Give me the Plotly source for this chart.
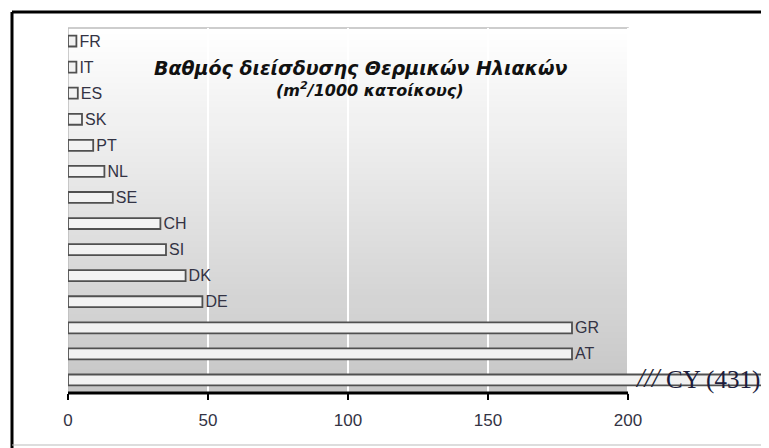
import plotly.graph_objects as go

countries = ['FR', 'IT', 'ES', 'SK', 'PT', 'NL', 'SE', 'CH', 'SI', 'DK', 'DE', 'GR', 'AT', 'CY']
values = [3, 3, 3.5, 5, 9, 13, 16, 33, 35, 42, 48, 180, 180, 431]
x_ticks = [0, 50, 100, 150, 200]

title = '<b><i>Βαθμός διείσδυσης Θερμικών Ηλιακών</i></b>'
subtitle = '<b><i>(m<sup>2</sup>/1000 κατοίκους)</i></b>'

# page has an 8px body margin, so the figure is a bit smaller than the window
OFF = 8
W, H = 769 - OFF, 448 - OFF
PLOT_L, PLOT_R, PLOT_T, PLOT_B = 68, 769, 28, 393   # page pixels
ML, MR, MT, MB = PLOT_L - OFF, 769 - PLOT_R, PLOT_T - OFF, H - (PLOT_B - OFF)
px_per_unit = (628 - PLOT_L) / 200
x_max = (PLOT_R - PLOT_L) / px_per_unit


def px(p):  # page x -> paper x
    return (p - PLOT_L) / (PLOT_R - PLOT_L)


def py(p):  # page y -> paper y
    return (PLOT_B - p) / (PLOT_B - PLOT_T)


fig = go.Figure()

# bar labels, CY is labelled separately next to the axis break
labels = [c if v <= 200 else '' for c, v in zip(countries, values)]

fig.add_trace(go.Bar(
    x=values,
    y=countries,
    orientation='h',
    width=0.42,
    marker=dict(color='#f2f2f2', line=dict(color='#505050', width=1.8)),
    text=labels,
    textposition='outside',
    constraintext='none',
    cliponaxis=False,
    textfont=dict(family='Arial, Liberation Sans', size=16, color='#333344'),
    hoverinfo='skip',
    showlegend=False,
))

shapes = []
# vertical grey gradient behind the 0-200 range
n_strips = 60
for i in range(n_strips):
    t = i / (n_strips - 1)
    g = int(round(198 + (255 - 198) * t))
    shapes.append(dict(
        type='rect', xref='x', yref='paper', layer='below',
        x0=0, x1=200, y0=i / n_strips, y1=(i + 1) / n_strips + 0.002,
        fillcolor=f'rgb({g},{g},{g})', line=dict(width=0),
    ))
# plot area border
shapes.append(dict(type='rect', xref='x', yref='paper', layer='between',
                   x0=0, x1=200, y0=0, y1=1,
                   line=dict(color='#bdbdbd', width=1.5)))
# x axis line only under 0-200
shapes.append(dict(type='line', xref='x', yref='paper', layer='above',
                   x0=0, x1=200, y0=0, y1=0,
                   line=dict(color='black', width=3)))
# outer frame
shapes.append(dict(type='line', xref='paper', yref='paper', x0=px(12), x1=px(780), y0=py(12), y1=py(12),
                   line=dict(color='black', width=3)))
shapes.append(dict(type='line', xref='paper', yref='paper', x0=px(12), x1=px(12), y0=py(12), y1=py(460),
                   line=dict(color='black', width=3)))
shapes.append(dict(type='line', xref='paper', yref='paper', x0=px(12), x1=px(780), y0=py(445), y1=py(445),
                   line=dict(color='#bbbbbb', width=1)))

annotations = [
    dict(text=title, xref='paper', yref='paper', x=px(360), y=py(68), showarrow=False,
         xanchor='center', yanchor='middle',
         font=dict(family='DejaVu Sans', size=19, color='#111111')),
    dict(text=subtitle, xref='paper', yref='paper', x=px(369), y=py(89), showarrow=False,
         xanchor='center', yanchor='middle',
         font=dict(family='DejaVu Sans', size=16, color='#111111')),
    dict(text='<i>///</i>', xref='x', yref='y', x=(648 - PLOT_L) / px_per_unit, y='CY', showarrow=False,
         xanchor='center', yanchor='middle', yshift=2,
         font=dict(family='Liberation Serif, Times New Roman', size=27, color='#222233')),
    dict(text='CY (431)', xref='x', yref='y', x=(664 - PLOT_L) / px_per_unit, y='CY', showarrow=False,
         xanchor='left', yanchor='middle',
         font=dict(family='Liberation Serif, Times New Roman', size=25, color='#1c1c3c')),
]

fig.update_layout(
    width=W, height=H,
    margin=dict(l=ML, r=MR, t=MT, b=MB, pad=0),
    paper_bgcolor='white',
    plot_bgcolor='rgba(0,0,0,0)',
    shapes=shapes,
    annotations=annotations,
    xaxis=dict(range=[0, x_max], tickvals=x_ticks, ticktext=[str(v) for v in x_ticks],
               showgrid=True, gridcolor='white', gridwidth=2, zeroline=False,
               showline=False, ticks='outside', ticklen=6, tickwidth=2, tickcolor='black',
               ticklabelstandoff=6,
               tickfont=dict(family='Arial, Liberation Sans', size=17, color='#333344')),
    yaxis=dict(categoryorder='array', categoryarray=countries, range=[13.5, -0.5],
               showticklabels=False, showgrid=False, zeroline=False, showline=False, ticks=''),
)

fig.write_html('out.html')
